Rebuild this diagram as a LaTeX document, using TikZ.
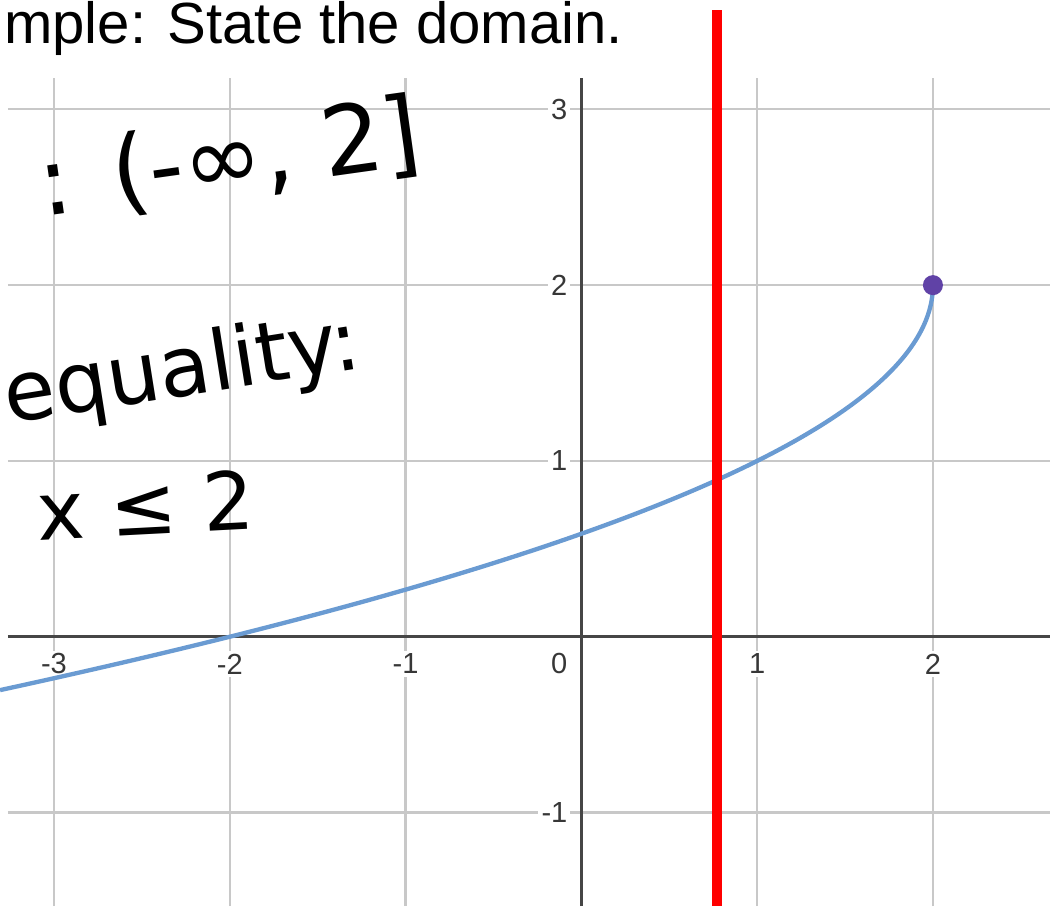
\documentclass[tikz,border=0pt]{standalone}
\usepackage{fontspec}
\setmainfont{Liberation Sans}
\newfontfamily\handfont{DejaVu Sans}
\usetikzlibrary{positioning}
\definecolor{gridgray}{RGB}{200,200,200}
\definecolor{axisgray}{RGB}{70,70,70}
\definecolor{labelgray}{RGB}{55,55,55}
\definecolor{curveblue}{RGB}{106,155,210}
\definecolor{dotpurple}{RGB}{96,66,166}
\tikzstyle{gridline} = [draw=gridgray, line width=0.35pt]
\tikzstyle{axis} = [draw=axisgray, line width=0.5pt]
\tikzstyle{ticklabel} = [fill=white, inner sep=0.5pt, text=labelgray,
  font=\fontsize{4.7}{5}\selectfont]
\tikzstyle{note} = [inner sep=0pt, font=\handfont]
\tikzstyle{curve} = [curveblue, line width=0.7pt]
\tikzstyle{redline} = [red, line width=1.6pt]
\tikzstyle{dot} = [circle, fill=dotpurple, inner sep=0pt, minimum size=0.114cm]

\begin{document}
\begin{tikzpicture}
    \useasboundingbox (-3.307,-1.532) rectangle (2.666,3.622);
    % grid and axes
    \foreach \x in {-3,...,2}
      \draw[gridline] (\x,-1.532) -- (\x,3.178);
    \foreach \y in {-1,...,3}
      \draw[gridline] (-3.262,\y) -- (2.666,\y);
    \draw[axis] (-3.262,0) -- (2.666,0);
    \draw[axis] (0,-1.532) -- (0,3.178);
    % tick labels
    \foreach \x in {-3,-2,-1,1,2}
      \node[ticklabel] (xl\x) at (\x,-0.155) {\x};
    \node[ticklabel, anchor=east] (xl0) at (-0.055,-0.155) {0};
    \foreach \y in {-1,1,2,3}
      \node[ticklabel, anchor=east] (yl\y) at (-0.055,\y) {\y};
    % the function and its end point
    \draw[curve] plot[domain=0:2.304, samples=80, smooth, variable=\t]
      ({2-\t*\t},{2-\t});
    \node[dot] (endpt) at (2,2) {};
    % red vertical line
    \coordinate (redtop) at (0.771,3.565);
    \coordinate (redbot) at (0.771,-1.532);
    \draw[redline] (redtop) -- (redbot);
    % text
    \node[anchor=base west, inner sep=0pt, font=\fontsize{9.4}{11}\selectfont]
      (title) at (-3.29,3.375) {mple: State the domain.};
    \node[note, rotate=8, font=\handfont\fontsize{15.5}{18}\selectfont]
      (domain) at (-2.0,2.71) {: (-∞, 2]};
    \node[note, rotate=9, font=\handfont\fontsize{13.5}{16}\selectfont]
      (ineq) at (-2.27,1.50) {equality:};
    \node[note, rotate=3, font=\handfont\fontsize{13}{16}\selectfont]
      (ans) at (-2.48,0.75) {x ≤ 2};
  \end{tikzpicture}
\end{document}
